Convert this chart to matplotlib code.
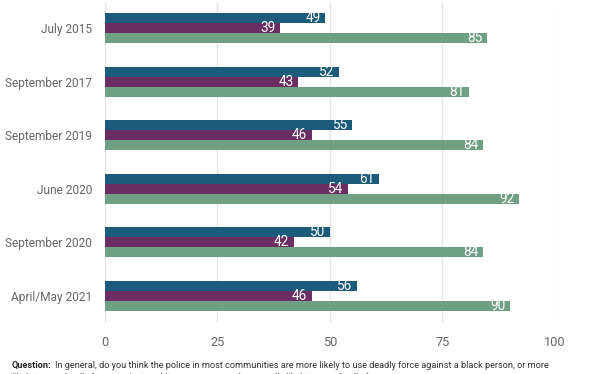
import matplotlib.pyplot as plt
import numpy as np

plt.rcParams["font.family"] = ["Roboto", "DejaVu Sans"]

periods = ["July 2015", "September 2017", "September 2019", "June 2020", "September 2020", "April/May 2021"]
series_a = [49, 52, 55, 61, 50, 56]
series_b = [39, 43, 46, 54, 42, 46]
series_c = [85, 81, 84, 92, 84, 90]

colors = ["#1c5b7b", "#6b2e63", "#70a084"]

fig = plt.figure(figsize=(6.12, 3.74), dpi=100)
ax = fig.add_axes([104.5 / 612, 1 - 322 / 374, 450.5 / 612, 319 / 374])

y = np.arange(len(periods))
h = 0.187
for off, vals, col in zip([-h, 0, h], [series_a, series_b, series_c], colors):
    bars = ax.barh(y + off, vals, height=h, color=col, zorder=2)
    for b, v in zip(bars, vals):
        ax.text(b.get_width() - 1.0, b.get_y() + h / 2, str(v), ha="right", va="center",
                color="white", fontsize=9.8, zorder=3)

ax.set_xlim(0, 100)
ax.set_ylim(5.485, -0.466)
ax.set_xticks([0, 25, 50, 75, 100])
ax.set_yticks(y)
ax.set_yticklabels(periods)
ax.tick_params(axis="both", length=0, labelsize=8.6, labelcolor="#666666")
ax.tick_params(axis="x", labelsize=9.2, pad=10)
ax.tick_params(axis="y", pad=9)
ax.grid(True, axis="x", color="#e3e3e3", linewidth=1, zorder=0)
for s in ax.spines.values():
    s.set_visible(False)

qy = 1 - 365 / 374
lbl = fig.text(12 / 612, qy, "Question:", fontsize=6.6, fontweight="bold", color="#222222", va="center")
fig.canvas.draw()
bb = lbl.get_window_extent(fig.canvas.get_renderer())
fig.text((bb.x1 + 3) / 612, qy,
         "In general, do you think the police in most communities are more likely to use deadly force against a black person, or more",
         fontsize=6.6, color="#333333", va="center")
fig.text(12 / 612, 1 - 377 / 374,
         "likely to use deadly force against a white person, or are they equally likely to use deadly force.",
         fontsize=6.6, color="#333333", va="center")

fig.savefig("out.png", dpi=100)
